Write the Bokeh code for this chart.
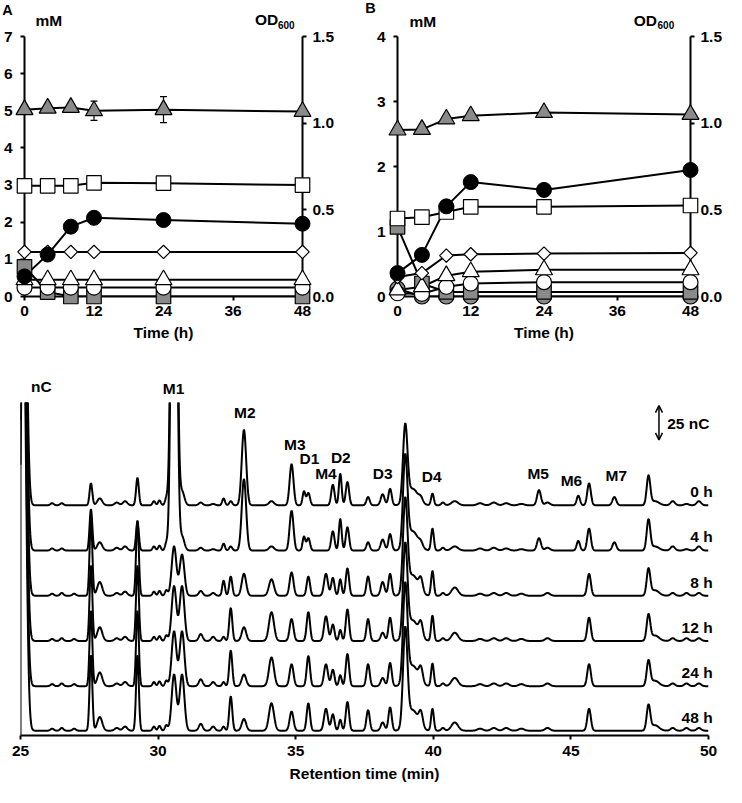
import numpy as np
from bokeh.plotting import figure
from bokeh.models import (Range1d, LinearAxis, FixedTicker, PrintfTickFormatter,
                          Arrow, OpenHead, Whisker, TeeHead, ColumnDataSource, Span)
from bokeh.core.properties import value
from bokeh.layouts import column, row
from bokeh.embed import file_html
from bokeh.resources import INLINE

FONT = "Liberation Sans"
FS = "15.5px"
GRAY = "#8a8a8a"

# ---------------- Panels A / B data ----------------
time_h = [0, 4, 8, 12, 24, 48]
time_ticks = [0, 12, 24, 36, 48]

a_gray_triangle = [5.03, 5.07, 5.09, 5.0, 5.03, 4.98]
a_gray_triangle_err = [0.03, 0.03, 0.05, 0.26, 0.35, 0.1]
a_white_square = [2.98, 2.98, 2.98, 3.06, 3.05, 3.0]
a_od600 = [0.116, 0.242, 0.403, 0.454, 0.441, 0.42]
a_white_diamond = [1.2, 1.2, 1.2, 1.2, 1.2, 1.2]
a_white_triangle = [0.45, 0.45, 0.45, 0.45, 0.45, 0.45]
a_white_circle = [0.24, 0.24, 0.24, 0.24, 0.24, 0.24]
a_gray_square = [0.8, 0.12, 0.0, 0.0, 0.0, 0.0]

b_gray_triangle = [2.56, 2.57, 2.73, 2.78, 2.83, 2.8]
b_white_square = [1.2, 1.22, 1.3, 1.38, 1.38, 1.4]
b_od600 = [0.135, 0.24, 0.52, 0.66, 0.615, 0.73]
b_white_diamond = [0.3, 0.36, 0.63, 0.65, 0.66, 0.67]
b_white_triangle = [0.1, 0.15, 0.32, 0.38, 0.41, 0.41]
b_white_circle = [0.05, 0.04, 0.15, 0.2, 0.22, 0.22]
b_gray_square = [1.07, 0.2, 0.07, 0.07, 0.07, 0.07]
b_gray_circle = [0.12, 0.0, 0.0, 0.0, 0.0, 0.0]

# ---------------- Panel C data (peaks) ----------------
peak_rt = [25.1, 26.15, 26.5, 26.95, 27.56, 27.88, 28.5, 28.8, 29.25, 29.85,
           30.05, 30.3, 30.58, 30.87, 31.55, 32.0, 32.38, 32.64, 33.12, 34.12,
           34.85, 35.3, 35.46, 36.1, 36.35, 36.62, 36.88, 37.63, 38.16, 38.43,
           38.98, 39.25, 39.55, 39.97, 40.35, 40.78, 41.7, 42.2, 42.65, 43.2,
           43.84, 44.15, 45.27, 45.66, 46.58, 47.82, 48.05, 48.7, 49.2, 49.65]
peak_sigma = [0.1, 0.06, 0.06, 0.06, 0.05, 0.09, 0.08, 0.08, 0.05, 0.05,
              0.05, 0.05, 0.085, 0.085, 0.07, 0.07, 0.05, 0.055, 0.08, 0.09,
              0.07, 0.05, 0.06, 0.07, 0.06, 0.05, 0.06, 0.06, 0.07, 0.06,
              0.08, 0.2, 0.07, 0.05, 0.06, 0.12, 0.1, 0.1, 0.1, 0.1,
              0.07, 0.09, 0.06, 0.065, 0.07, 0.065, 0.15, 0.08, 0.08, 0.08]
heights_0h = [320, 1.5, 1.5, 0, 16, 5, 2, 3, 20, 3,
              3.5, 5, 500, 10, 2, 1, 5, 3, 55, 3,
              30, 10, 9, 0, 15, 23, 17, 6, 8, 12,
              55, 12, 3, 8.5, 2, 3, 1.5, 2, 1.5, 1,
              11, 2, 7, 16, 6, 21, 3, 3, 1, 3]
heights_4h = [320, 1.5, 1.5, 0, 30, 6, 2, 3, 21, 3,
              3.5, 5, 500, 10, 2, 1, 5, 3, 52, 3,
              29, 10, 9, 0, 14, 23, 17, 6, 8, 12,
              65, 14, 3, 16, 2, 3, 1.5, 2, 1.5, 1,
              9, 2, 7, 16, 6, 22, 3, 3, 1, 3]
heights_8h = [320, 1.5, 2, 1.5, 55, 10, 2, 3, 55, 3,
              3.5, 4, 36, 30, 3.5, 2, 11, 14, 16, 12,
              17, 0, 14, 16, 13, 12, 20, 14, 10, 16,
              66, 15, 9, 18, 2, 6, 1.5, 2, 2, 1.5,
              0, 2, 0, 16, 0, 19, 4, 2, 2, 2]
heights_12h = [320, 1.5, 2, 1.5, 55, 10, 2, 3, 55, 3,
               3.5, 4, 40, 40, 5, 3, 3, 24, 10, 21,
               16, 0, 21, 18, 12, 8, 23, 16, 6, 17,
               66, 15, 10, 18.5, 2, 6, 1.5, 2, 2, 1.5,
               0, 2, 0, 17, 0, 18.5, 4, 2, 2, 2]
heights_24h = [320, 1.5, 2, 1.5, 55, 10, 2, 3, 55, 3,
               3.5, 4, 40, 40, 5, 3, 3, 26, 8.5, 21,
               16, 0, 22, 16, 12, 8, 23.5, 16, 6, 17,
               70, 15, 10, 16.5, 2, 6, 1.5, 2, 2, 1.5,
               0, 2, 0, 16, 0, 18, 4, 2, 2, 2]
heights_48h = [320, 1.5, 2, 1.5, 55, 10, 2, 3, 55, 3,
               3.5, 4, 41, 41, 5, 3, 3, 25, 8.5, 20,
               14, 0, 20, 16, 12, 8, 21, 15, 6, 17,
               70, 15, 10, 16, 2, 6, 1.5, 2, 2, 1.5,
               0, 2, 0, 16, 0, 18, 4, 2, 2, 2]
trace_names = ["0 h", "4 h", "8 h", "12 h", "24 h", "48 h"]
trace_heights = [heights_0h, heights_4h, heights_8h, heights_12h, heights_24h, heights_48h]
trace_offset = [168, 135, 102, 69, 36, 3.5]
rt_ticks = [25, 30, 35, 40, 45, 50]

peak_names = ["nC", "M1", "M2", "M3", "D1", "D2", "M4", "D3", "D4", "M5", "M6", "M7"]
# label placement (annotation positions)
peak_label_x = [25.76, 30.56, 33.15, 34.97, 35.5, 36.64, 36.1, 38.16, 39.94, 43.81, 45.02, 46.65]
peak_label_y = [255, 253, 235.7, 212, 202, 203, 191.4, 191.4, 189.3, 191.4, 186.4, 190]
scale_bar_nC = 25


def style_axis(ax, standoff):
    ax.axis_line_width = 2
    ax.axis_line_color = "black"
    ax.major_tick_line_width = 2
    ax.major_tick_line_color = "black"
    ax.major_tick_in = 0
    ax.major_tick_out = 4
    ax.minor_tick_line_color = None
    ax.major_label_text_font = FONT
    ax.major_label_text_font_style = "bold"
    ax.major_label_text_font_size = FS
    ax.major_label_text_color = "black"
    ax.major_label_standoff = standoff
    ax.axis_label_text_font = FONT
    ax.axis_label_text_font_style = "bold"
    ax.axis_label_text_font_size = FS
    ax.axis_label_text_color = "black"


def lab(p, x, y, text, size=FS, align="center"):
    p.text(x=[x], y=[y], text=[text], text_font=value(FONT), text_font_style="bold",
           text_font_size=size, text_align=align, text_baseline="middle",
           text_color="black", level="overlay")


def time_panel(width, bl, br, ymax, series, od, gray_tri_err, letter_xy, mm_xy, od_xy, sub_xy):
    p = figure(width=width, height=352, x_range=Range1d(0, 48), y_range=Range1d(0, ymax),
               output_backend="svg", toolbar_location=None,
               min_border_left=bl, min_border_right=br, min_border_top=36, min_border_bottom=56)
    p.outline_line_color = None
    p.xgrid.visible = False
    p.ygrid.visible = False
    p.extra_y_ranges = {"od": Range1d(0, 1.5)}
    p.xaxis.ticker = FixedTicker(ticks=time_ticks)
    p.xaxis.axis_label = "Time (h)"
    p.yaxis.ticker = FixedTicker(ticks=list(range(0, ymax + 1)))
    style_axis(p.xaxis[0], 5)
    p.xaxis[0].axis_label_standoff = 5
    style_axis(p.yaxis[0], 8)
    rax = LinearAxis(y_range_name="od", ticker=FixedTicker(ticks=[0, 0.5, 1.0, 1.5]),
                     formatter=PrintfTickFormatter(format="%.1f"))
    style_axis(rax, 6)
    p.add_layout(rax, "right")

    if gray_tri_err is not None:
        src = ColumnDataSource(dict(x=time_h,
                                    up=[v + e for v, e in zip(series[-1][0], gray_tri_err)],
                                    lo=[v - e for v, e in zip(series[-1][0], gray_tri_err)]))
        p.add_layout(Whisker(source=src, base="x", upper="up", lower="lo", line_width=1.2,
                             upper_head=TeeHead(size=7, line_width=1.2),
                             lower_head=TeeHead(size=7, line_width=1.2)))

    for vals, marker, fill, size, ang in series:
        p.line(time_h, vals, line_color="black", line_width=2)
    p.line(time_h, od, line_color="black", line_width=2, y_range_name="od")
    for vals, marker, fill, size, ang in series:
        p.scatter(time_h, vals, marker=marker, size=size, angle=ang, fill_color=fill,
                  line_color="black", line_width=1.2, level="overlay")
    p.scatter(time_h, od, marker="circle", size=15, fill_color="black", line_color="black",
              y_range_name="od", level="overlay")

    lab(p, letter_xy[0], letter_xy[1], letter_xy[2], size="14.5px", align="left")
    lab(p, mm_xy[0], mm_xy[1], "mM")
    lab(p, od_xy[0], od_xy[1], "OD", align="left")
    lab(p, sub_xy[0], sub_xy[1], "600", size="10px", align="left")
    return p


series_a = [
    (a_gray_square, "square", GRAY, 14.5, 0),
    (a_white_circle, "circle", "white", 15, 0),
    (a_white_triangle, "triangle", "white", 17, 0),
    (a_white_diamond, "square", "white", 9.5, np.pi / 4),
    (a_white_square, "square", "white", 14.5, 0),
    (a_gray_triangle, "triangle", GRAY, 17, 0),
]
series_b = [
    (b_gray_circle, "circle", GRAY, 15, 0),
    (b_gray_square, "square", GRAY, 14.5, 0),
    (b_white_circle, "circle", "white", 15, 0),
    (b_white_triangle, "triangle", "white", 17, 0),
    (b_white_diamond, "square", "white", 9.5, np.pi / 4),
    (b_white_square, "square", "white", 14.5, 0),
    (b_gray_triangle, "triangle", GRAY, 17, 0),
]

pA = time_panel(362, 22, 60, 7, series_a, a_od600, a_gray_triangle_err,
                (-3.85, 7.72, "A"), (4.2, 7.43, "mM"), (39.8, 7.45), (43.75, 7.32))
pB = time_panel(364, 35, 36, 4, series_b, b_od600, None,
                (-5.3, 4.44, "B"), (4.16, 4.23, "mM"), (38.7, 4.24), (42.6, 4.17))

# ---------------- Panel C ----------------
pC = figure(width=726, height=435, x_range=Range1d(25, 50), y_range=Range1d(0, 243),
            output_backend="svg", toolbar_location=None,
            min_border_left=20, min_border_right=18, min_border_top=50, min_border_bottom=52)
pC.outline_line_color = None
pC.xgrid.visible = False
pC.ygrid.visible = False
pC.yaxis.visible = False
pC.xaxis.ticker = FixedTicker(ticks=rt_ticks)
pC.xaxis.axis_label = "Retention time (min)"
style_axis(pC.xaxis[0], 6)
pC.xaxis[0].axis_label_standoff = 6
pC.add_layout(Span(location=25, dimension="height", line_color="black", line_width=2))

rt = np.linspace(25, 50, 3001)
prt = np.array(peak_rt)[:, None]
psg = np.array(peak_sigma)[:, None]
for name, hts, off in zip(trace_names, trace_heights, trace_offset):
    sig = (np.array(hts)[:, None] * np.exp(-0.5 * ((rt[None, :] - prt) / psg) ** 2)).sum(axis=0)
    pC.line(rt, off + sig, line_color="black", line_width=2)
    lab(pC, 50.15, off + 10, name, align="right")

for nm, x, y in zip(peak_names, peak_label_x, peak_label_y):
    lab(pC, x, y, nm)

pC.add_layout(Arrow(start=OpenHead(size=7, line_width=1.5), end=OpenHead(size=7, line_width=1.5),
                    x_start=48.2, y_start=215.7, x_end=48.2, y_end=215.7 + scale_bar_nC,
                    line_width=1.5, line_color="black"))
lab(pC, 48.5, 228, "25 nC", align="left")

layout = column(row(pA, pB), pC)
open("out.html", "w").write(file_html(layout, INLINE))
